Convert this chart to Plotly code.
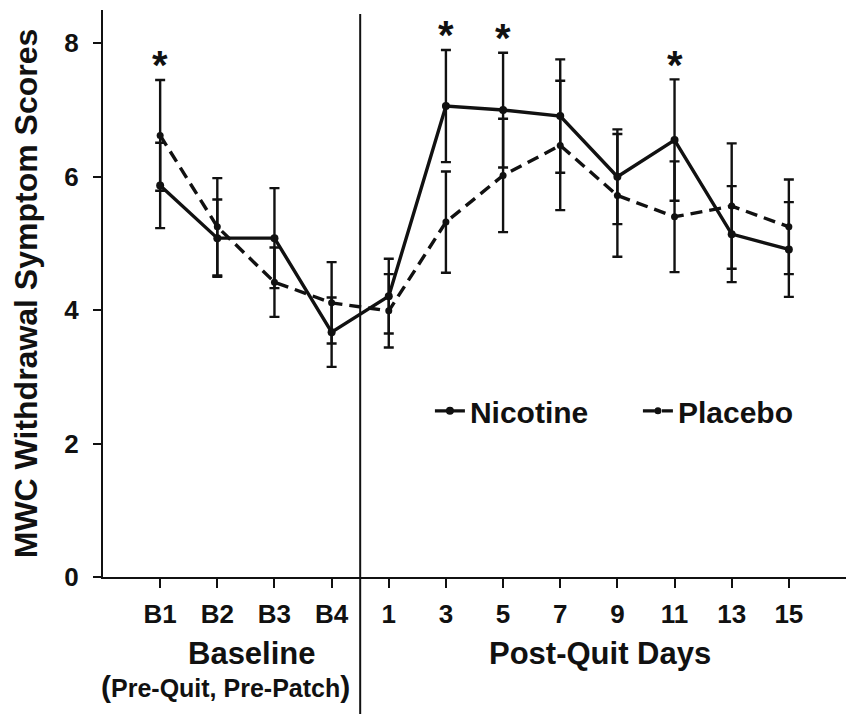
import plotly.graph_objects as go

categories = ["B1", "B2", "B3", "B4", "1", "3", "5", "7", "9", "11", "13", "15"]
nicotine = [5.87, 5.08, 5.08, 3.67, 4.21, 7.06, 7.00, 6.91, 6.00, 6.55, 5.14, 4.91]
nicotine_err = [0.64, 0.58, 0.75, 0.52, 0.56, 0.84, 0.86, 0.85, 0.71, 0.91, 0.72, 0.71]
placebo = [6.62, 5.25, 4.42, 4.11, 3.99, 5.32, 6.02, 6.47, 5.72, 5.40, 5.56, 5.25]
placebo_err = [0.83, 0.73, 0.52, 0.61, 0.55, 0.76, 0.85, 0.97, 0.92, 0.83, 0.94, 0.71]
significant = [True, False, False, False, False, True, True, False, False, True, False, False]
y_ticks = [0, 2, 4, 6, 8]

FONT = "Liberation Sans, Arial, sans-serif"
INK = "#111111"

fig = go.Figure()
fig.add_trace(go.Scatter(
    x=categories, y=nicotine, name="Nicotine", mode="lines+markers",
    line=dict(color=INK, width=3.4),
    marker=dict(color=INK, size=8, symbol="circle"),
    error_y=dict(type="data", array=nicotine_err, visible=True, color=INK, thickness=2.4, width=5),
))
fig.add_trace(go.Scatter(
    x=categories, y=placebo, name="Placebo", mode="lines+markers",
    line=dict(color=INK, width=3.4, dash="12px,7px"),
    marker=dict(color=INK, size=7, symbol="circle"),
    error_y=dict(type="data", array=placebo_err, visible=True, color=INK, thickness=2.4, width=5),
))

# significance asterisks above the error bars
for i, sig in enumerate(significant):
    if sig:
        top = max(nicotine[i] + nicotine_err[i], placebo[i] + placebo_err[i])
        fig.add_annotation(x=i, y=top + 0.31, text="*", showarrow=False,
                           font=dict(family=FONT, size=40, color=INK, weight="bold"),
                           yanchor="middle", xanchor="center", yshift=-6)

# divider between baseline and post-quit
fig.add_shape(type="line", xref="x", yref="paper", x0=3.5, x1=3.5, y0=-0.245, y1=0.993,
              line=dict(color=INK, width=2))

fig.add_annotation(x=1.61, y=-0.135, xref="x", yref="paper", text="Baseline", showarrow=False,
                   font=dict(family=FONT, size=31, color=INK, weight="bold"), yanchor="middle")
fig.add_annotation(x=7.69, y=-0.135, xref="x", yref="paper", text="Post-Quit Days", showarrow=False,
                   font=dict(family=FONT, size=31, color=INK, weight="bold"), yanchor="middle")
fig.add_annotation(x=1.14, y=-0.193, xref="x", yref="paper",
                   text="<span style='font-size:30px'>(</span>Pre-Quit, Pre-Patch<span style='font-size:30px'>)</span>",
                   showarrow=False,
                   font=dict(family=FONT, size=25, color=INK, weight="bold"), yanchor="middle")

fig.update_layout(
    width=849, height=714,
    margin=dict(l=103, r=3, t=10, b=137),
    paper_bgcolor="white", plot_bgcolor="white",
    font=dict(family=FONT, color=INK),
    showlegend=True,
    legend=dict(orientation="h", x=0.440, y=0.293, xanchor="left", yanchor="middle",
                font=dict(family=FONT, size=30, color=INK, weight="bold"),
                entrywidth=163, entrywidthmode="pixels",
                bgcolor="rgba(0,0,0,0)"),
    xaxis=dict(type="category", categoryorder="array", categoryarray=categories,
               range=[-1, 12], showline=True, linecolor=INK, linewidth=2,
               ticks="outside", ticklen=9, tickwidth=2, tickcolor=INK,
               showgrid=False, zeroline=False, ticklabelstandoff=4,
               tickfont=dict(family=FONT, size=26, color=INK, weight="bold")),
    yaxis=dict(range=[0, 8.5], tickvals=y_ticks, showline=True, linecolor=INK, linewidth=2,
               ticks="outside", ticklen=8, tickwidth=2, tickcolor=INK,
               showgrid=False, zeroline=False, ticklabelstandoff=9,
               tickfont=dict(family=FONT, size=26, color=INK, weight="bold"),
               title=dict(text="MWC Withdrawal Symptom Scores",
                          font=dict(family=FONT, size=32, color=INK, weight="bold"),
                          standoff=17)),
)

fig.write_html("out.html", config={"displayModeBar": False},
               post_script="document.body.style.margin='0';document.body.style.overflow='hidden';")
